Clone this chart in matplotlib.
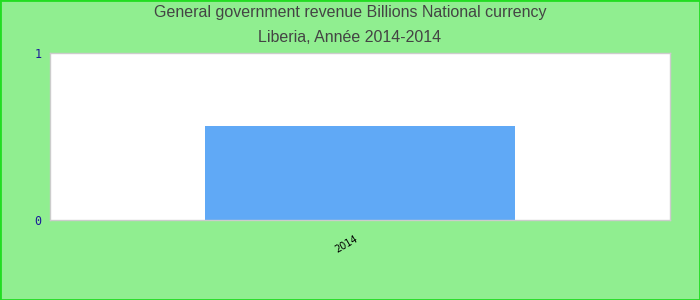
import matplotlib
matplotlib.use("Agg")
import matplotlib.pyplot as plt
from matplotlib.patches import Rectangle

# data
years = ["2014"]
revenue = [0.563]
title = "General government revenue Billions National currency\nLiberia, Année 2014-2014"

fig = plt.figure(figsize=(7, 3), dpi=100, facecolor="#90ee90")
ax = fig.add_axes([50 / 700, 80 / 300, 620 / 700, 167 / 300])
ax.set_facecolor("white")

ax.bar(range(len(years)), revenue, width=0.5, color="#60a9f6", zorder=2)
ax.set_xlim(-0.5, len(years) - 0.5)
ax.set_ylim(0, 1)

ax.set_yticks([0, 1])
ax.set_yticklabels(["0", "1"], family="DejaVu Sans Mono", fontsize=8.5, color="#1a1a9a")
ax.tick_params(length=0, pad=6)
ax.set_xticks(range(len(years)))
ax.set_xticklabels(years, rotation=30, ha="right", fontsize=7, family="DejaVu Sans")
ax.tick_params(axis="x", pad=10)

for s in ax.spines.values():
    s.set_color("#cccccc")
    s.set_linewidth(1)

fig.text(0.5, 0.982, title, ha="center", va="top", fontsize=11.5, color="#444444",
         family="Liberation Sans", linespacing=1.78)

fig.patches.append(Rectangle((0, 0), 1, 1, transform=fig.transFigure, fill=False,
                             edgecolor="#22dd22", linewidth=2))

fig.savefig("out.png", dpi=100, facecolor=fig.get_facecolor())
